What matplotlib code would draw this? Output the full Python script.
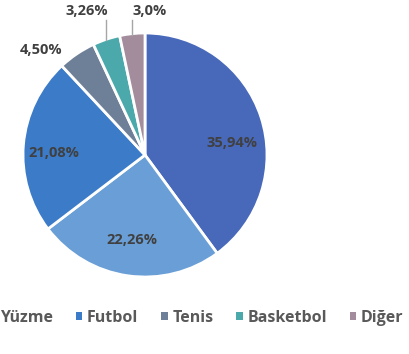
import numpy as np
import matplotlib.pyplot as plt
from matplotlib.patches import Patch

# slice data (first category's legend entry is cut off in the source image)
categories = ["", "Yüzme", "Futbol", "Tenis", "Basketbol", "Diğer"]
values = [35.94, 22.26, 21.08, 4.50, 3.26, 3.0]
value_labels = ["35,94%", "22,26%", "21,08%", "4,50%", "3,26%", "3,0%"]
colors = ["#4868BA", "#6A9ED6", "#3B7BC8", "#6E7F98", "#4BA9AC", "#A38C9C"]

# label anchor positions (in pie radius units)
label_pos = [(0.71, 0.10), (-0.11, -0.70), (-0.75, 0.02), (-0.85, 0.86), (-0.48, 1.18), (0.04, 1.18)]

plt.rcParams["font.family"] = ["Open Sans", "DejaVu Sans"]

fig = plt.figure(figsize=(4.09, 3.54), dpi=100)
cx, cy, r = 145, 155, 122
ax = fig.add_axes([(cx - r) / 409, (354 - cy - r) / 354, 2 * r / 409, 2 * r / 354])

wedges, _ = ax.pie(
    values,
    colors=colors,
    startangle=90,
    counterclock=False,
    radius=1.0,
    wedgeprops=dict(edgecolor="white", linewidth=2),
)
ax.set_xlim(-1, 1)
ax.set_ylim(-1, 1)
ax.set_aspect("equal")
ax.axis("off")

text_kw = dict(fontsize=10.5, fontweight="bold", color="#404040", ha="center", va="center")
for i, (tx, ty) in enumerate(label_pos):
    ax.text(tx, ty, value_labels[i], clip_on=False, **text_kw)

# leader lines for the two smallest slices
for i in (4, 5):
    w = wedges[i]
    mid = np.deg2rad((w.theta1 + w.theta2) / 2)
    x0, y0 = np.cos(mid), np.sin(mid)
    ax.plot([x0, x0], [y0 * 0.99, 1.11], color="#A6A6A6", lw=1, clip_on=False)

handles = [Patch(facecolor=colors[i], edgecolor="none") for i in range(1, 6)]
fig.legend(
    handles,
    categories[1:],
    loc="center left",
    bbox_to_anchor=(-11 / 409, 1 - 318 / 354),
    ncol=5,
    frameon=False,
    borderpad=0,
    borderaxespad=0,
    handlelength=0.4,
    handleheight=0.4,
    handletextpad=0.28,
    columnspacing=1.45,
    prop=dict(size=11.5, weight="bold"),
    labelcolor="#595959",
)

fig.savefig("out.png", dpi=100)
